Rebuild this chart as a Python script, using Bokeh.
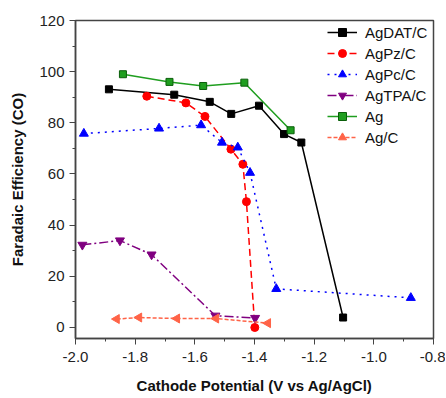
from bokeh.plotting import figure
from bokeh.models import Range1d, FixedTicker, Legend, LegendItem
from bokeh.embed import file_html
from bokeh.resources import INLINE

# Data
agdat_x = [-1.888, -1.669, -1.550, -1.478, -1.385, -1.301, -1.243, -1.103]
agdat_y = [93.1, 91.0, 88.2, 83.5, 86.7, 75.6, 72.3, 3.9]

agpz_x = [-1.761, -1.630, -1.566, -1.479, -1.439, -1.427, -1.399]
agpz_y = [90.4, 87.8, 82.5, 69.7, 63.8, 49.2, 0.0]

agpc_x = [-1.972, -1.720, -1.579, -1.509, -1.456, -1.415, -1.327, -0.876]
agpc_y = [75.8, 77.8, 79.1, 72.3, 70.4, 60.5, 15.1, 11.6]

agtpa_x = [-1.977, -1.851, -1.745, -1.531, -1.398]
agtpa_y = [32.3, 34.0, 28.5, 4.6, 3.7]

ag_x = [-1.841, -1.685, -1.572, -1.434, -1.279]
ag_y = [99.0, 96.0, 94.4, 95.7, 77.1]

agc_x = [-1.862, -1.787, -1.660, -1.529, -1.355]
agc_y = [3.3, 3.9, 3.5, 3.5, 1.7]

x_ticks = [-2.0, -1.8, -1.6, -1.4, -1.2, -1.0, -0.8]
y_ticks = [0, 20, 40, 60, 80, 100, 120]

FONT = "Liberation Sans"

p = figure(output_backend="svg", toolbar_location=None,
           frame_width=358, frame_height=318,
           min_border_left=75, min_border_right=12, min_border_top=20, min_border_bottom=58,
           x_range=Range1d(-2.0, -0.8), y_range=Range1d(-4.3, 120))

p.background_fill_color = "white"
p.border_fill_color = "white"
p.outline_line_color = "#444444"
p.outline_line_width = 1.5
p.grid.visible = False

for ax in (p.xaxis[0], p.yaxis[0]):
    ax.axis_line_color = "#444444"
    ax.axis_line_width = 1.5
    ax.major_tick_line_color = "#444444"
    ax.minor_tick_line_color = "#444444"
    ax.major_tick_in = 0
    ax.major_tick_out = 6
    ax.minor_tick_in = 0
    ax.minor_tick_out = 3
    ax.major_label_text_font = FONT
    ax.major_label_text_font_size = "15px"
    ax.major_label_text_color = "#222222"
    ax.axis_label_text_font = FONT
    ax.axis_label_text_font_size = "15px"
    ax.axis_label_text_font_style = "bold"
    ax.axis_label_text_color = "#111111"

p.xaxis.ticker = FixedTicker(ticks=x_ticks, minor_ticks=[-1.9, -1.7, -1.5, -1.3, -1.1, -0.9])
p.yaxis.ticker = FixedTicker(ticks=y_ticks, minor_ticks=[10, 30, 50, 70, 90, 110])
p.xaxis.major_label_overrides = {-2.0: "-2.0", -1.8: "-1.8", -1.6: "-1.6", -1.4: "-1.4",
                                 -1.2: "-1.2", -1.0: "-1.0", -0.8: "-0.8"}
p.xaxis.axis_label = "Cathode Potential (V vs Ag/AgCl)"
p.yaxis.axis_label = "Faradaic Efficiency (CO)"
p.xaxis.major_label_standoff = 7
p.yaxis.major_label_standoff = 5
p.xaxis.axis_label_standoff = 12
p.yaxis.axis_label_standoff = 10

series = [
    ("AgDAT/C", agdat_x, agdat_y, "#000000", "solid", "square", 7),
    ("AgPz/C", agpz_x, agpz_y, "#ff0000", "7 4", "circle", 8),
    ("AgPc/C", agpc_x, agpc_y, "#0000ff", "2 5", "triangle", 9),
    ("AgTPA/C", agtpa_x, agtpa_y, "#800080", "9 3 2 3", "inverted_triangle", 9),
    ("Ag", ag_x, ag_y, "#1f9e1f", "solid", "square", 7),
    ("Ag/C", agc_x, agc_y, "#ff6347", "4 2", "triangle", 9),
]

items = []
for name, xs, ys, col, dash, marker, size in series:
    r1 = p.line(xs, ys, line_color=col, line_width=1.5, line_dash=dash)
    if name == "Ag/C":
        r2 = p.scatter(xs, ys, marker="triangle", angle=90, angle_units="deg", size=size,
                       fill_color=col, line_color=col)
    else:
        r2 = p.scatter(xs, ys, marker=marker, size=size, fill_color=col,
                       line_color=("#0a5e0a" if name == "Ag" else col))
    items.append(LegendItem(label=name, renderers=[r1, r2]))

legend = Legend(items=items, location=(252, 191), margin=0, padding=0,
                glyph_width=30, glyph_height=20, label_height=20, spacing=1,
                label_standoff=8, label_text_font=FONT, label_text_font_size="15px",
                label_text_color="#111111", border_line_color=None,
                background_fill_alpha=0)
p.add_layout(legend)

open("out.html", "w").write(file_html(p, INLINE))
